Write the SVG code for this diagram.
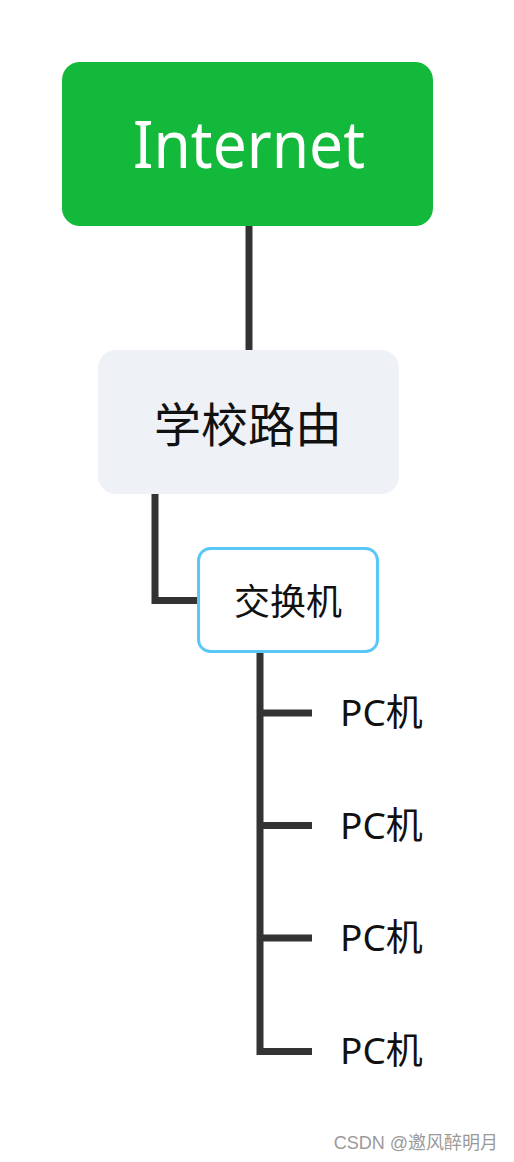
<svg xmlns="http://www.w3.org/2000/svg" width="514" height="1162" viewBox="0 0 514 1162">
<style>
.t{font-family:"Noto Sans","Noto Sans CJK SC",sans-serif;text-anchor:middle}
.c{fill:none;stroke:#333333;stroke-width:7}
.pc{font-family:"Noto Sans","Noto Sans CJK SC",sans-serif;font-size:37px;fill:#111}
</style>
<rect width="514" height="1162" fill="#ffffff"/>
<g id="connectors">
<line class="c" x1="249" y1="226" x2="249" y2="351"/>
<polyline class="c" points="155,494 155,600.5 207,600.5"/>
<polyline class="c" points="260,645 260,1051.5 312,1051.5"/>
<line class="c" x1="260" y1="713" x2="312" y2="713"/>
<line class="c" x1="260" y1="825.5" x2="312" y2="825.5"/>
<line class="c" x1="260" y1="938" x2="312" y2="938"/>
</g>
<g id="internet">
<rect x="62" y="62" width="371" height="164" rx="18" fill="#13B93A"/>
<text class="t" x="249" y="168" font-size="66" fill="#ffffff" textLength="232" lengthAdjust="spacingAndGlyphs">Internet</text>
</g>
<g id="router">
<rect x="98" y="350" width="301" height="144" rx="18" fill="#EEF1F5"/>
<text class="t" x="248" y="442" font-size="47" fill="#111">学校路由</text>
</g>
<g id="switch">
<rect x="198.5" y="548.5" width="179" height="103" rx="12" fill="#ffffff" stroke="#5AC8F6" stroke-width="3"/>
<text class="t" x="288" y="615" font-size="36" fill="#111">交换机</text>
</g>
<g id="pc1"><text class="pc" x="340" y="726">PC机</text></g>
<g id="pc2"><text class="pc" x="340" y="839">PC机</text></g>
<g id="pc3"><text class="pc" x="340" y="951">PC机</text></g>
<g id="pc4"><text class="pc" x="340" y="1064">PC机</text></g>
<text x="498" y="1149" font-family="'Liberation Sans','Noto Sans CJK SC',sans-serif" font-size="18" fill="#9a9a9a" text-anchor="end">CSDN @邀风醉明月</text>
</svg>
